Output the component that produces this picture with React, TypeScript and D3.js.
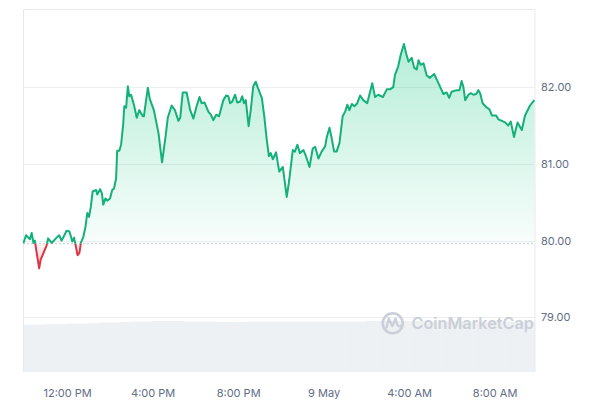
import React from "react";
import * as d3 from "d3";

const startTime = new Date(2024, 4, 8, 9, 56);
const spanMinutes = 1436;
const openPrice = 79.96;
const yTicks = [79, 80, 81, 82];

const minutes = [
  0, 7, 13, 18, 23, 28, 32, 35, 44, 48, 58, 65, 69, 79, 91, 100, 107, 121, 129, 137,
  142, 145, 152, 157, 161, 168, 174, 179, 184, 189, 194, 204, 207, 215, 220, 224, 230, 235, 243, 249,
  254, 260, 263, 269, 274, 280, 283, 288, 293, 297, 302, 310, 318, 325, 335, 338, 349, 355, 366, 379,
  389, 399, 405, 416, 425, 435, 440, 447, 458, 468, 477, 486, 494, 500, 508, 519, 526, 533, 541, 549,
  561, 569, 575, 580, 586, 594, 600, 608, 614, 619, 624, 632, 638, 645, 652, 658, 669, 676, 683, 689,
  694, 700, 709, 718, 728, 739, 746, 756, 762, 769, 776, 786, 793, 803, 812, 819, 828, 837, 847, 851,
  859, 865, 872, 879, 887, 896, 903, 909, 915, 922, 929, 937, 945, 954, 965, 979, 987, 996, 1009, 1020,
  1029, 1038, 1043, 1052, 1059, 1068, 1074, 1081, 1090, 1097, 1104, 1109, 1115, 1123, 1132, 1141, 1153, 1160, 1170, 1179,
  1188, 1195, 1202, 1216, 1224, 1230, 1235, 1240, 1249, 1256, 1263, 1271, 1277, 1282, 1289, 1299, 1308, 1315, 1327, 1333,
  1343, 1352, 1361, 1368, 1377, 1387, 1399, 1408, 1422, 1434,
];

const prices = [
  79.97, 80.07, 80.04, 80.02, 80.1, 79.97, 80.0, 79.9, 79.64, 79.75, 79.86, 79.94, 80.03, 79.97, 80.03, 80.07, 80.0, 80.13, 80.12, 79.99,
  80.04, 79.97, 79.81, 79.84, 79.97, 80.05, 80.18, 80.36, 80.31, 80.44, 80.64, 80.66, 80.6, 80.67, 80.62, 80.47, 80.55, 80.52, 80.55, 80.66,
  80.68, 80.81, 81.17, 81.17, 81.25, 81.52, 81.75, 81.73, 82.01, 81.88, 81.9, 81.77, 81.6, 81.7, 81.62, 81.62, 81.99, 81.84, 81.7, 81.4,
  81.02, 81.36, 81.6, 81.76, 81.7, 81.56, 81.6, 81.93, 81.93, 81.7, 81.59, 81.75, 81.87, 81.79, 81.8, 81.68, 81.64, 81.57, 81.64, 81.62,
  81.83, 81.89, 81.88, 81.79, 81.81, 81.9, 81.8, 81.81, 81.88, 81.79, 81.83, 81.49, 81.7, 82.01, 82.07, 81.99, 81.86, 81.62, 81.31, 81.1,
  81.14, 81.06, 81.15, 80.9, 80.96, 80.57, 80.79, 81.18, 81.16, 81.25, 81.14, 81.18, 81.1, 80.96, 81.2, 81.22, 81.07, 81.16, 81.23, 81.34,
  81.47, 81.34, 81.16, 81.16, 81.27, 81.62, 81.68, 81.77, 81.7, 81.78, 81.75, 81.79, 81.89, 81.83, 81.79, 82.05, 81.87, 81.9, 81.87, 81.97,
  81.97, 82.0, 82.16, 82.27, 82.42, 82.56, 82.44, 82.33, 82.38, 82.25, 82.23, 82.35, 82.29, 82.31, 82.15, 82.12, 82.17, 82.1, 82.0, 81.91,
  81.93, 81.86, 81.94, 81.96, 81.96, 82.08, 82.0, 81.83, 81.9, 81.92, 81.9, 81.91, 81.96, 81.92, 81.79, 81.74, 81.71, 81.63, 81.63, 81.58,
  81.56, 81.54, 81.5, 81.55, 81.35, 81.54, 81.44, 81.63, 81.76, 81.83,
];

// half-hourly volume (relative)
const volumes = [
  0.91, 0.91, 0.92, 0.92, 0.93, 0.93, 0.94, 0.95, 0.95, 0.96, 0.97, 0.97, 0.98, 0.98, 0.98, 0.97, 0.97, 0.97, 0.96, 0.96,
  0.96, 0.97, 0.97, 0.97, 0.97, 0.97, 0.97, 0.97, 0.97, 0.97, 0.97, 0.97, 0.98, 0.98, 0.98, 0.98, 0.98, 0.98, 0.97, 0.97,
  0.97, 0.97, 0.97, 0.97, 0.97, 0.97, 0.97, 0.97,
];

const W = 600;
const H = 400;
const left = 23.5;
const right = 535;
const top = 9.5;
const bottom = 372;

export default function App() {
  const t0 = startTime.getTime();
  const data = minutes.map((m, i) => ({ t: new Date(t0 + m * 60000), p: prices[i] }));
  const x = d3.scaleTime().domain([startTime, new Date(t0 + spanMinutes * 60000)]).range([left, right]);
  const y = d3.scaleLinear().domain([78.29, 83.01]).range([bottom, top]);
  const vy = d3.scaleLinear().domain([0, 1]).range([bottom, bottom - 52]);

  const line = d3.line<any>().x((d) => x(d.t)).y((d) => y(d.p));
  const area = d3
    .area<any>()
    .x((d) => x(d.t))
    .y0(y(openPrice))
    .y1((d) => y(d.p));

  const baseY = y(openPrice);
  const xTicks = x.ticks(d3.timeHour.every(4) as any);
  const fmt = (d: Date) =>
    d.getHours() === 0 ? d3.timeFormat("%-d %b")(d) : d3.timeFormat("%-I:%M %p")(d);

  const barW = x(new Date(t0 + 30 * 60000)) - x(startTime);
  const font = "Inter, 'Noto Sans', sans-serif";

  return (
    <svg
      width={W}
      height={H}
      style={{ position: "absolute", left: 0, top: 0, display: "block", background: "#fff" }}
    >
      <defs>
        <linearGradient id="gUp" x1="0" y1={y(82.6)} x2="0" y2={baseY} gradientUnits="userSpaceOnUse">
          <stop offset="0" stopColor="#16c784" stopOpacity={0.32} />
          <stop offset="1" stopColor="#16c784" stopOpacity={0.03} />
        </linearGradient>
        <linearGradient id="gDn" x1="0" y1={baseY} x2="0" y2={y(79.6)} gradientUnits="userSpaceOnUse">
          <stop offset="0" stopColor="#ea3943" stopOpacity={0.05} />
          <stop offset="1" stopColor="#ea3943" stopOpacity={0.3} />
        </linearGradient>
        <clipPath id="cUp">
          <rect x={0} y={0} width={W} height={baseY} />
        </clipPath>
        <clipPath id="cDn">
          <rect x={0} y={baseY} width={W} height={H - baseY} />
        </clipPath>
      </defs>

      {/* volume */}
      {volumes.map((v, i) => {
        const bx = x(new Date(t0 + i * 30 * 60000));
        const w = Math.min(barW + 0.5, right - bx);
        return (
          <rect key={i} x={bx} y={vy(v)} width={Math.max(0, w)} height={bottom - vy(v)} fill="#eef1f4" />
        );
      })}

      {/* frame & grid */}
      <line x1={left} x2={right} y1={top} y2={top} stroke="#e6e9ee" />
      <line x1={left} x2={left} y1={top} y2={bottom} stroke="#e6e9ee" />
      <line x1={right} x2={right} y1={top} y2={bottom} stroke="#e6e9ee" />
      {yTicks.map((v) => (
        <line key={v} x1={left} x2={right} y1={Math.round(y(v)) + 0.5} y2={Math.round(y(v)) + 0.5} stroke="#eceef2" />
      ))}

      {/* areas */}
      <path d={area(data) || ""} fill="url(#gUp)" clipPath="url(#cUp)" />
      <path d={area(data) || ""} fill="url(#gDn)" clipPath="url(#cDn)" />

      {/* baseline */}
      <line
        x1={left}
        x2={right}
        y1={baseY}
        y2={baseY}
        stroke="#8a93a6"
        strokeWidth={1}
        strokeDasharray="1 3"
      />

      {/* lines */}
      <path d={line(data) || ""} fill="none" stroke="#14b07a" strokeWidth={2} strokeLinejoin="round" clipPath="url(#cUp)" />
      <path d={line(data) || ""} fill="none" stroke="#e03340" strokeWidth={2} strokeLinejoin="round" clipPath="url(#cDn)" />

      {/* watermark */}
      <g opacity={0.9}>
        <circle cx={392.7} cy={323.3} r={10} fill="none" stroke="#c7ccd5" strokeWidth={2.6} />
        <path
          d="M386.5,327.5 L388.8,318.5 L392.3,326 L395.5,318.5 L397,324.5 Q398.5,327 400.5,326"
          fill="none"
          stroke="#c7ccd5"
          strokeWidth={2.4}
          strokeLinejoin="round"
          strokeLinecap="round"
        />
        <text x={411.5} y={329} fontFamily={font} fontSize={16.2} fontWeight={600} fill="#c7ccd5">
          CoinMarketCap
        </text>
      </g>

      {/* y labels */}
      {yTicks.map((v) => (
        <text key={v} x={541} y={y(v) + 4} fontFamily={font} fontSize={11} fill="#616e85">
          {v.toFixed(2)}
        </text>
      ))}

      {/* x labels */}
      {xTicks.map((d, i) => (
        <text key={i} x={x(d)} y={397} textAnchor="middle" fontFamily={font} fontSize={11} fill="#616e85">
          {fmt(d)}
        </text>
      ))}
    </svg>
  );
}
